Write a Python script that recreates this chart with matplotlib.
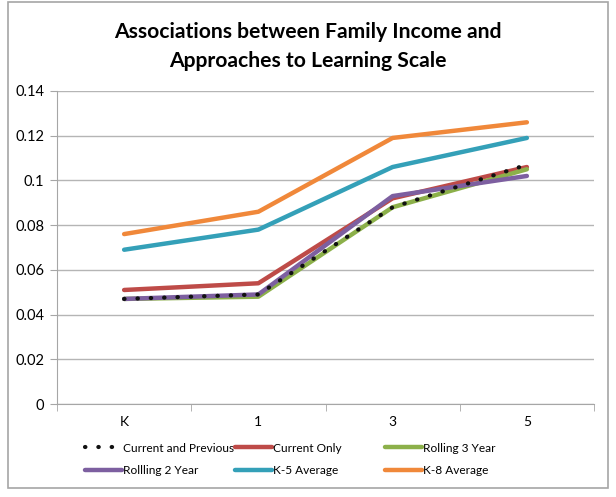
import numpy as np
import matplotlib
matplotlib.use('Agg')
import matplotlib.pyplot as plt
from matplotlib.patches import Rectangle

plt.rcParams['font.family'] = ['Lato', 'DejaVu Sans']

grades = ['K', '1', '3', '5']
current_prev = [0.047, 0.049, 0.088, 0.107]
current_only = [0.051, 0.054, 0.092, 0.106]
rolling3 = [0.047, 0.048, 0.088, 0.105]
rolling2 = [0.047, 0.049, 0.093, 0.102]
k5_avg = [0.069, 0.078, 0.106, 0.119]
k8_avg = [0.076, 0.086, 0.119, 0.126]

fig = plt.figure(figsize=(6.16, 4.97), dpi=100)
ax = fig.add_axes([57/616, 1-404/497, (594-57)/616, (404-91)/497])

# outer chart border
fig.patches.append(Rectangle((8/616, 1-488/497), 600/616, 486/497,
                             transform=fig.transFigure, fill=False,
                             edgecolor='#a6a6a6', linewidth=1.2))

x = np.arange(len(grades))
lw = 3.2
l_co, = ax.plot(x, current_only, color='#be4b48', lw=lw, solid_capstyle='round')
l_r3, = ax.plot(x, rolling3, color='#8cb04a', lw=lw, solid_capstyle='round')
l_r2, = ax.plot(x, rolling2, color='#7d5fa0', lw=lw, solid_capstyle='round')
l_k5, = ax.plot(x, k5_avg, color='#34a0b8', lw=lw, solid_capstyle='round')
l_k8, = ax.plot(x, k8_avg, color='#f0883a', lw=lw, solid_capstyle='round')
l_cp, = ax.plot(x, current_prev, color='#111111', lw=3.0, linestyle=(0, (0.1, 3.1)),
                dash_capstyle='round')

ax.set_xlim(-0.5, 3.5)
ax.set_ylim(0, 0.14)
ax.set_yticks(np.arange(0, 0.141, 0.02))
ax.set_yticklabels(['0', '0.02', '0.04', '0.06', '0.08', '0.1', '0.12', '0.14'])
ax.set_xticks(x)
ax.set_xticklabels(grades)
ax.set_xticks(np.arange(-0.5, 3.6, 1), minor=True)
ax.tick_params(axis='x', which='major', length=0, pad=9, labelsize=10)
ax.tick_params(axis='x', which='minor', length=5, color='#a6a6a6')
ax.tick_params(axis='y', length=5, color='#a6a6a6', labelsize=10.5, pad=4)
ax.grid(axis='y', color='#b5b5b5', lw=1)
ax.set_axisbelow(True)
for s in ['top', 'right']:
    ax.spines[s].set_visible(False)
for s in ['left', 'bottom']:
    ax.spines[s].set_color('#a6a6a6')

fig.text(0.5, 1-32/497, 'Associations between Family Income and', ha='center',
         va='center', fontsize=15.2, fontweight='bold')
fig.text(0.5, 1-61/497, 'Approaches to Learning Scale', ha='center',
         va='center', fontsize=15.2, fontweight='bold')

# legend: three equal-width columns, like the spreadsheet legend
columns = [([l_cp, l_r2], ['Current and Previous', 'Rollling 2 Year']),
           ([l_co, l_k5], ['Current Only', 'K-5 Average']),
           ([l_r3, l_k8], ['Rolling 3 Year', 'K-8 Average'])]
col_x = [85, 235, 385]
for (h, lab), cx in zip(columns, col_x):
    leg = fig.legend(h, lab, loc='center left', bbox_to_anchor=(cx/616, 1-459.5/497),
                     frameon=False, fontsize=8.6, handlelength=3.1, handletextpad=0.1,
                     labelspacing=1.0, borderpad=0, borderaxespad=0)

fig.savefig('out.png', dpi=100)
